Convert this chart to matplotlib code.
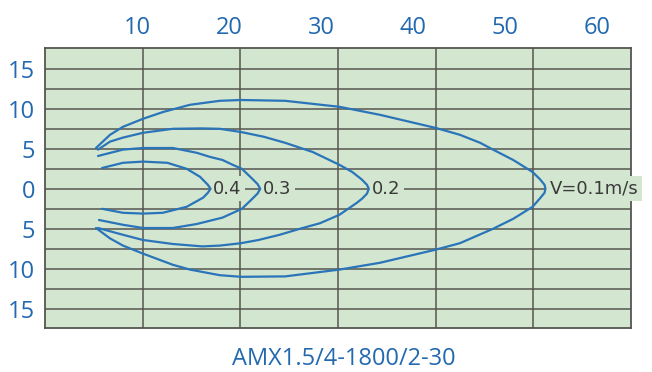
import matplotlib
matplotlib.use('Agg')
import matplotlib.pyplot as plt

# throw distance (m) along x, spread (m) along y, one open curve per air speed
x_ticks = [10, 20, 30, 40, 50, 60]
y_ticks = [15, 10, 5, 0, -5, -10, -15]
model_name = 'AMX1.5/4-1800/2-30'

v01_x = [5.54, 7.07, 8.48, 10.65, 12.83, 15.76, 19.0, 21.3, 26.1, 32.0, 36.4, 42.5, 45.1, 47.3,
         48.7, 50.9, 53.0, 53.8, 54.3, 54.4,
         54.3, 53.8, 53.0, 50.9, 48.7, 47.3, 45.1, 42.5, 36.4, 32.0, 26.1, 21.3, 19.0, 15.76,
         13.9, 10.65, 8.48, 7.07, 5.54]
v01_y = [5.1, 6.75, 7.75, 8.75, 9.6, 10.5, 11.0, 11.1, 11.0, 10.25, 9.25, 7.6, 6.75, 5.75,
         4.9, 3.6, 2.1, 1.2, 0.5, 0.0,
         -0.5, -1.2, -2.25, -3.75, -5.0, -5.7, -6.8, -7.6, -9.25, -10.1, -10.95, -11.0, -10.8, -10.1,
         -9.5, -8.1, -7.1, -6.2, -4.9]

v02_x = [5.76, 7.07, 8.48, 10.65, 13.9, 17.0, 19.0, 21.3, 23.8, 26.1, 29.1, 32.0, 33.4, 34.4,
         35.0, 35.2,
         35.0, 34.5, 33.9, 32.0, 29.9, 27.7, 25.5, 23.2, 21.3, 19.0, 17.1, 13.9, 10.65, 8.48, 5.76]
v02_y = [4.9, 5.9, 6.4, 7.0, 7.5, 7.55, 7.5, 7.1, 6.5, 5.75, 4.6, 3.0, 2.1, 1.2,
         0.5, 0.0,
         -0.6, -1.2, -1.75, -3.25, -4.3, -5.0, -5.75, -6.4, -6.8, -7.1, -7.2, -6.9, -6.4, -5.75, -4.9]

v03_x = [5.76, 8.48, 10.65, 13.9, 16.5, 17.9, 19.3, 20.4, 21.4, 22.4, 23.1, 23.4,
         23.1, 22.4, 21.4, 19.3, 16.5, 13.9, 10.65, 8.48, 5.87]
v03_y = [4.1, 4.9, 5.1, 5.1, 4.5, 4.0, 3.6, 3.0, 2.5, 1.4, 0.6, 0.0,
         -0.6, -1.4, -2.5, -3.6, -4.4, -4.9, -4.9, -4.5, -3.9]

v04_x = [6.2, 8.48, 10.65, 13.3, 15.4, 16.85, 17.7, 18.0,
         17.7, 17.2, 15.4, 12.8, 10.65, 8.48, 6.2]
v04_y = [2.6, 3.25, 3.4, 3.25, 2.5, 1.5, 0.5, 0.0,
         -0.5, -1.1, -2.25, -3.0, -3.1, -3.0, -2.5]

curve_labels = ['V=0.1m/s', '0.2', '0.3', '0.4']
label_x = [54.9, 35.5, 23.7, 18.3]

bg = '#d3e6d0'
grid_c = '#56564f'
blue = '#2a74b9'
text_blue = '#2369b0'

fig = plt.figure(figsize=(6.52, 3.72), dpi=100)
ax = fig.add_axes([45 / 652, 44 / 372, 586 / 652, 280 / 372])
ax.set_facecolor(bg)

xmax = 63.7
ax.set_xlim(0, xmax)
ax.set_ylim(-17.4, 17.6)

# grid: six equal columns, rows every 2.5 m
for k in range(1, 6):
    ax.axvline(k * xmax / 6, color=grid_c, lw=1.1, zorder=1)
for k in range(-6, 7):
    ax.axhline(k * 2.5, color=grid_c, lw=1.1, zorder=1)

for xs, ys in [(v01_x, v01_y), (v02_x, v02_y), (v03_x, v03_y), (v04_x, v04_y)]:
    ax.plot(xs, ys, color=blue, lw=1.6, zorder=4, solid_joinstyle='round', solid_capstyle='round')

for lab, lx in zip(curve_labels, label_x):
    ax.text(lx, 0, lab, ha='left', va='center', fontsize=13, color='#3a3a3a',
            family='DejaVu Sans', zorder=3, clip_on=False,
            bbox=dict(boxstyle='square,pad=0.2', facecolor=bg, edgecolor='none'))

ax.xaxis.tick_top()
ax.set_xticks(x_ticks)
ax.set_xticklabels([str(v) for v in x_ticks])
ax.set_yticks(y_ticks)
ax.set_yticklabels([str(abs(v)) for v in y_ticks])
ax.tick_params(axis='both', length=0, labelsize=17, labelcolor=text_blue)
ax.tick_params(axis='x', pad=6)
ax.tick_params(axis='y', pad=7)
for t in ax.get_xticklabels() + ax.get_yticklabels():
    t.set_family('Open Sans')

for sp in ax.spines.values():
    sp.set_color(grid_c)
    sp.set_linewidth(1.3)

fig.text(344 / 652, 1 - 359 / 372, model_name, ha='center', va='center',
         fontsize=17, color=text_blue, family='Open Sans')

fig.savefig('out.png', dpi=100)
